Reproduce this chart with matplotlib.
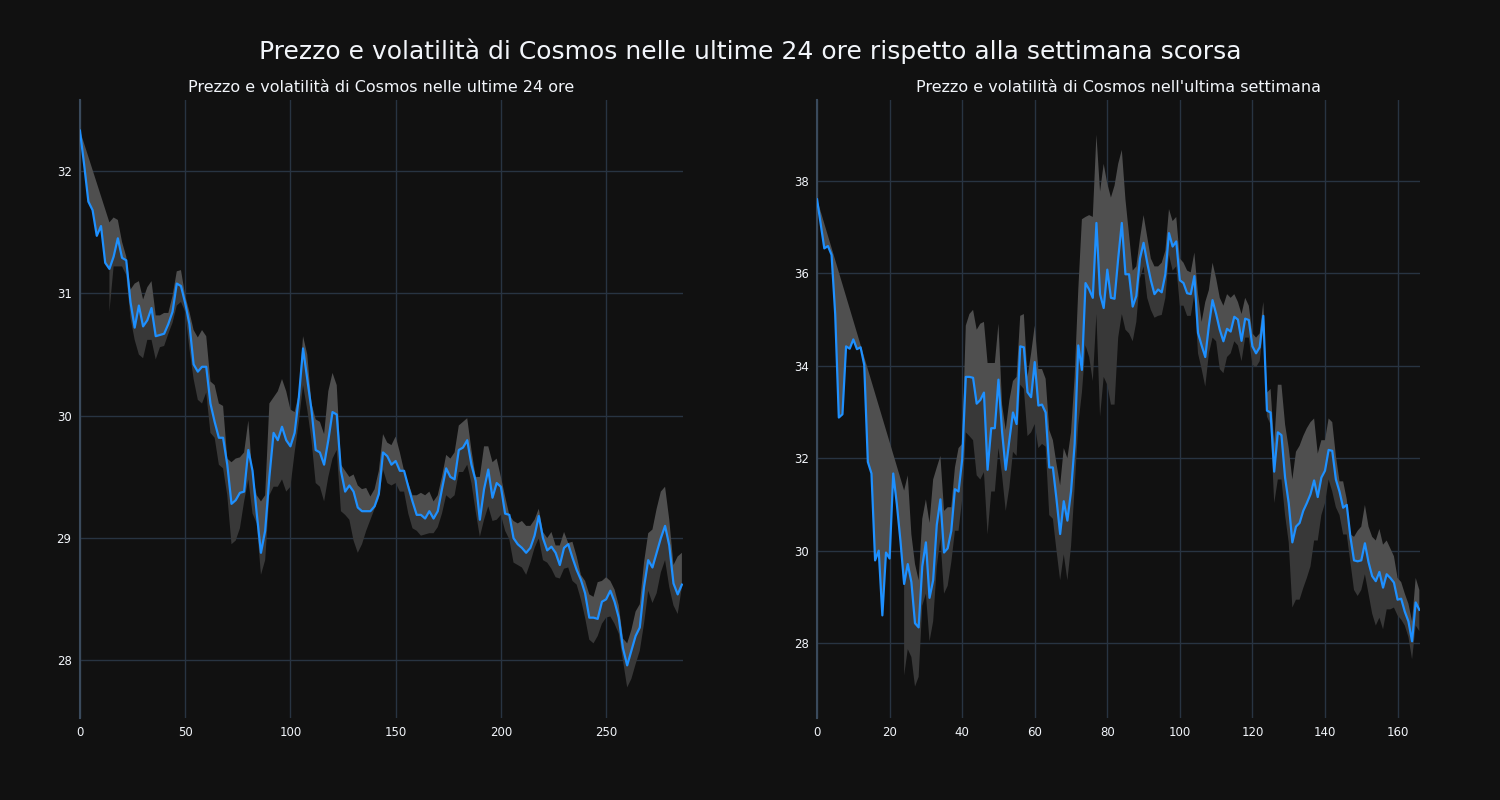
import numpy as np
import matplotlib.pyplot as plt

# ---- dati: ultime 24 ore (passo di 10 minuti, indice ogni 2 campioni) ----
giorno_x = np.arange(0, 288, 2)
giorno_prezzo = [32.33, 32.05, 31.75, 31.68, 31.47, 31.55, 31.25, 31.2, 31.3, 31.45,
                 31.29, 31.27, 30.93, 30.72, 30.9, 30.73, 30.78, 30.88, 30.65, 30.66,
                 30.67, 30.75, 30.85, 31.08, 31.06, 30.92, 30.75, 30.42, 30.36, 30.4,
                 30.4, 30.1, 29.95, 29.82, 29.82, 29.6, 29.28, 29.31, 29.37, 29.38,
                 29.72, 29.55, 29.2, 28.88, 29.06, 29.5, 29.86, 29.8, 29.91, 29.8,
                 29.75, 29.86, 30.15, 30.55, 30.3, 30.05, 29.72, 29.7, 29.6, 29.8,
                 30.03, 30.01, 29.55, 29.38, 29.43, 29.38, 29.25, 29.22, 29.22, 29.22,
                 29.26, 29.36, 29.7, 29.67, 29.6, 29.63, 29.55, 29.55, 29.42, 29.3,
                 29.19, 29.19, 29.16, 29.22, 29.16, 29.22, 29.4, 29.57, 29.5, 29.48,
                 29.72, 29.74, 29.8, 29.6, 29.47, 29.15, 29.4, 29.56, 29.33, 29.45,
                 29.42, 29.2, 29.19, 29.0, 28.95, 28.92, 28.88, 28.92, 29.02, 29.18,
                 29.0, 28.9, 28.93, 28.88, 28.78, 28.92, 28.95, 28.84, 28.74, 28.66,
                 28.55, 28.35, 28.35, 28.34, 28.48, 28.5, 28.57, 28.48, 28.35, 28.1,
                 27.96, 28.08, 28.2, 28.27, 28.6, 28.82, 28.76, 28.88, 29.0, 29.1,
                 28.94, 28.63, 28.54, 28.62]
nan = np.nan
giorno_sup = [32.33, nan, nan, nan, nan, nan, nan, 31.58, 31.62, 31.6,
              31.42, 31.3, 31.03, 31.08, 31.1, 30.95, 31.05, 31.1, 30.82, 30.82,
              30.84, 30.84, 30.98, 31.18, 31.19, 30.98, 30.85, 30.7, 30.64, 30.7,
              30.65, 30.28, 30.25, 30.1, 30.08, 29.65, 29.62, 29.65, 29.66, 29.7,
              29.96, 29.5, 29.35, 29.3, 29.35, 30.1, 30.15, 30.2, 30.3, 30.2,
              30.05, 30.03, 30.18, 30.65, 30.5, 30.1, 29.97, 29.95, 29.85, 30.2,
              30.35, 30.25, 29.6, 29.55, 29.5, 29.52, 29.43, 29.4, 29.41, 29.34,
              29.4, 29.55, 29.85, 29.78, 29.76, 29.83, 29.7, 29.55, 29.45, 29.35,
              29.35, 29.37, 29.35, 29.38, 29.3, 29.35, 29.5, 29.68, 29.65, 29.7,
              29.92, 29.95, 29.98, 29.72, 29.5, 29.5, 29.75, 29.75, 29.62, 29.65,
              29.5, 29.34, 29.19, 29.14, 29.12, 29.14, 29.1, 29.1, 29.15, 29.24,
              29.05, 29.0, 29.05, 28.94, 28.94, 29.05, 28.96, 28.97, 28.85, 28.7,
              28.65, 28.54, 28.52, 28.64, 28.65, 28.68, 28.65, 28.58, 28.45, 28.18,
              28.14, 28.25, 28.4, 28.46, 28.8, 29.04, 29.07, 29.24, 29.38, 29.42,
              29.15, 28.78, 28.85, 28.88]
giorno_inf = [nan, nan, nan, nan, nan, nan, nan, 30.85, 31.22, 31.22,
              31.22, 31.15, 30.8, 30.62, 30.5, 30.47, 30.62, 30.62, 30.46, 30.56,
              30.57, 30.67, 30.76, 30.9, 30.93, 30.85, 30.55, 30.3, 30.13, 30.1,
              30.19, 29.86, 29.82, 29.6, 29.57, 29.35, 28.95, 28.98, 29.08, 29.3,
              29.48, 29.2, 29.12, 28.7, 28.82, 29.35, 29.42, 29.42, 29.48, 29.38,
              29.42, 29.7, 29.95, 30.25, 30.05, 29.8, 29.45, 29.42, 29.3, 29.5,
              29.65, 29.72, 29.22, 29.19, 29.15, 28.98, 28.88, 28.95, 29.06, 29.15,
              29.24, 29.32, 29.56, 29.45, 29.43, 29.45, 29.38, 29.38, 29.2, 29.08,
              29.06, 29.02, 29.03, 29.04, 29.04, 29.09, 29.2, 29.35, 29.32, 29.35,
              29.54, 29.54, 29.6, 29.45, 29.22, 29.01, 29.15, 29.26, 29.14, 29.15,
              29.19, 29.06, 28.99, 28.8, 28.78, 28.76, 28.7, 28.8, 28.92, 29.0,
              28.82, 28.8, 28.75, 28.68, 28.67, 28.75, 28.76, 28.65, 28.62, 28.5,
              28.35, 28.17, 28.14, 28.2, 28.3, 28.35, 28.36, 28.3, 28.22, 28.0,
              27.78, 27.85, 27.97, 28.08, 28.3, 28.57, 28.47, 28.55, 28.72, 28.82,
              28.6, 28.45, 28.38, 28.6]

# ---- dati: ultima settimana (passo orario) ----
sett_x = np.arange(0, 167)
sett_prezzo = [37.6, 37.07, 36.54, 36.59, 36.4, 35.12, 32.88, 32.95, 34.42, 34.37,
               34.57, 34.36, 34.4, 34.02, 31.92, 31.67, 29.79, 30.0, 28.6, 29.96,
               29.83, 31.67, 31.0, 30.2, 29.28, 29.71, 29.32, 28.43, 28.34, 29.66,
               30.18, 28.98, 29.36, 30.56, 31.11, 29.96, 30.05, 30.43, 31.33, 31.28,
               31.97, 33.76, 33.76, 33.74, 33.18, 33.26, 33.42, 31.75, 32.65, 32.65,
               33.7, 32.57, 31.75, 32.39, 32.99, 32.74, 34.42, 34.4, 33.43, 33.32,
               34.08, 33.14, 33.16, 32.99, 31.8, 31.8, 31.11, 30.36, 31.07, 30.65,
               31.28, 32.31, 34.44, 33.91, 35.79, 35.65, 35.47, 37.09, 35.55, 35.25,
               36.08, 35.47, 35.45, 36.32, 37.09, 35.98, 35.98, 35.28, 35.51, 36.32,
               36.66, 36.23, 35.85, 35.55, 35.65, 35.59, 35.98, 36.87, 36.58, 36.69,
               35.85, 35.79, 35.57, 35.55, 35.94, 34.71, 34.44, 34.19, 34.87, 35.42,
               35.12, 34.78, 34.53, 34.8, 34.74, 35.06, 35.0, 34.54, 35.02, 34.99,
               34.42, 34.27, 34.4, 35.08, 33.03, 32.99, 31.71, 32.56, 32.5, 31.58,
               31.03, 30.18, 30.52, 30.6, 30.86, 31.03, 31.22, 31.52, 31.16, 31.58,
               31.73, 32.18, 32.16, 31.54, 31.28, 30.93, 30.99, 30.3, 29.79, 29.77,
               29.79, 30.16, 29.75, 29.45, 29.34, 29.54, 29.2, 29.49, 29.41, 29.31,
               28.94, 28.96, 28.68, 28.47, 28.04, 28.88, 28.72]
sett_sup = [37.6] + [nan] * 23 + [
            31.3, 31.63, 30.35, 29.71, 29.36, 30.69,
            31.11, 30.6, 31.54, 31.8, 32.05, 30.86, 30.94, 30.94, 31.8, 32.22,
            32.31, 34.87, 35.12, 35.21, 34.78, 34.91, 34.95, 34.06, 34.06, 34.06,
            34.91, 33.16, 32.61, 33.25, 33.67, 33.76, 35.08, 35.12, 33.76, 34.27,
            34.87, 33.93, 33.93, 33.72, 32.61, 32.39, 31.88, 31.41, 32.22, 32.0,
            32.56, 33.76, 35.64, 37.17, 37.22, 37.26, 37.22, 39.0, 37.77, 38.37,
            37.94, 37.64, 37.9, 38.37, 38.67, 37.6, 36.83, 36.06, 36.15, 36.75,
            37.26, 36.79, 36.32, 36.15, 36.15, 36.23, 36.49, 37.39, 37.13, 37.22,
            36.32, 36.23, 36.06, 36.02, 36.45, 35.55, 34.95, 35.38, 35.64, 36.23,
            35.89, 35.47, 35.3, 35.55, 35.47, 35.55, 35.38, 35.12, 35.47, 35.3,
            34.7, 34.61, 34.7, 35.38, 33.42, 33.5, 32.31, 33.59, 33.59, 32.73,
            32.22, 31.54, 32.14, 32.27, 32.48, 32.65, 32.78, 32.86, 32.1, 32.39,
            32.39, 32.86, 32.78, 32.05, 31.5, 31.5, 31.11, 30.35, 30.3, 30.43,
            30.52, 30.99, 30.52, 30.3, 30.22, 30.47, 30.13, 30.22, 30.05, 29.88,
            29.41, 29.32, 29.07, 28.85, 28.47, 29.41, 29.15]
sett_inf = [nan] * 24 + [
            27.3, 27.87, 27.7, 27.06, 27.27, 28.81,
            29.07, 28.04, 28.47, 29.66, 30.26, 29.07, 29.24, 29.75, 30.43, 30.43,
            31.11, 32.56, 32.48, 32.39, 31.63, 31.54, 31.7, 30.35, 31.28, 31.28,
            32.22, 31.63, 30.86, 31.37, 32.14, 32.05, 33.59, 33.5, 32.48, 32.56,
            32.74, 32.22, 32.31, 32.25, 30.77, 30.69, 30.0, 29.36, 29.92, 29.36,
            30.09, 31.37, 32.73, 33.42, 34.44, 34.19, 33.67, 35.12, 32.9, 33.76,
            33.59, 33.16, 33.16, 34.61, 35.12, 34.78, 34.7, 34.53, 34.95, 35.89,
            36.15, 35.47, 35.21, 35.04, 35.08, 35.1, 35.47, 36.4, 36.06, 36.15,
            35.3, 35.3, 35.08, 35.08, 35.55, 34.27, 33.93, 33.55, 34.27, 34.61,
            34.53, 33.93, 33.84, 34.19, 34.27, 34.53, 34.44, 34.1, 34.61, 34.61,
            34.02, 33.97, 34.1, 34.78, 32.9, 32.73, 31.03, 31.54, 31.54, 30.77,
            30.18, 28.77, 28.94, 28.94, 29.19, 29.41, 29.66, 30.22, 30.22, 30.77,
            31.03, 31.54, 31.28, 30.94, 30.77, 30.35, 30.35, 29.75, 29.15, 29.02,
            29.15, 29.49, 29.07, 28.64, 28.38, 28.55, 28.3, 28.73, 28.73, 28.77,
            28.6, 28.51, 28.38, 28.13, 27.65, 28.38, 28.26]

titolo = "Prezzo e volatilità di Cosmos nelle ultime 24 ore rispetto alla settimana scorsa"
titoli = ["Prezzo e volatilità di Cosmos nelle ultime 24 ore",
          "Prezzo e volatilità di Cosmos nell'ultima settimana"]

sfondo = "#111111"
griglia = "#283442"
testo = "#f2f5fa"
blu = "#1e90ff"


def disegna(ax, x, prezzo, sup, inf, titolo_ax, xlim, ylim, xticks, yticks):
    x = np.asarray(x, dtype=float)
    p = np.asarray(prezzo, dtype=float)
    s = np.asarray(sup, dtype=float)
    i = np.asarray(inf, dtype=float)
    ok_s = ~np.isnan(s)
    ok_i = ~np.isnan(i)
    # banda sopra il prezzo (più chiara)
    ax.fill(np.concatenate([x[ok_s], x[::-1]]),
            np.concatenate([s[ok_s], p[::-1]]),
            color="#4f4f4f", lw=0, zorder=2)
    # banda sotto il prezzo (più scura)
    primo = np.argmax(ok_i)
    ax.fill(np.concatenate([x[primo:], x[ok_i][::-1]]),
            np.concatenate([p[primo:], i[ok_i][::-1]]),
            color="#383838", lw=0, zorder=2)
    ax.plot(x, p, color=blu, lw=1.6, zorder=3)

    ax.set_facecolor(sfondo)
    ax.set_xlim(*xlim)
    ax.set_ylim(*ylim)
    ax.set_xticks(xticks)
    ax.set_yticks(yticks)
    ax.grid(True, color=griglia, lw=1)
    ax.set_axisbelow(True)
    for lato in ["top", "right", "bottom"]:
        ax.spines[lato].set_visible(False)
    ax.spines["left"].set_color("#3a4a5c")
    ax.spines["left"].set_linewidth(1.5)
    ax.tick_params(colors=testo, labelsize=8.5, length=0, pad=6)
    ax.set_title(titolo_ax, color=testo, fontsize=11.5, pad=6)


fig = plt.figure(figsize=(15, 8), dpi=100, facecolor=sfondo)
ax1 = fig.add_axes([0.0533, 0.1025, 0.402, 0.7725])
ax2 = fig.add_axes([0.5447, 0.1025, 0.402, 0.7725])

disegna(ax1, giorno_x, giorno_prezzo, giorno_sup, giorno_inf, titoli[0],
        (0, 286.5), (27.53, 32.58), range(0, 251, 50), range(28, 33))
disegna(ax2, sett_x, sett_prezzo, sett_sup, sett_inf, titoli[1],
        (0, 166.2), (26.38, 39.75), range(0, 161, 20), range(28, 39, 2))

fig.suptitle(titolo, color=testo, fontsize=18, y=0.952)

plt.savefig("out.png", facecolor=sfondo)
